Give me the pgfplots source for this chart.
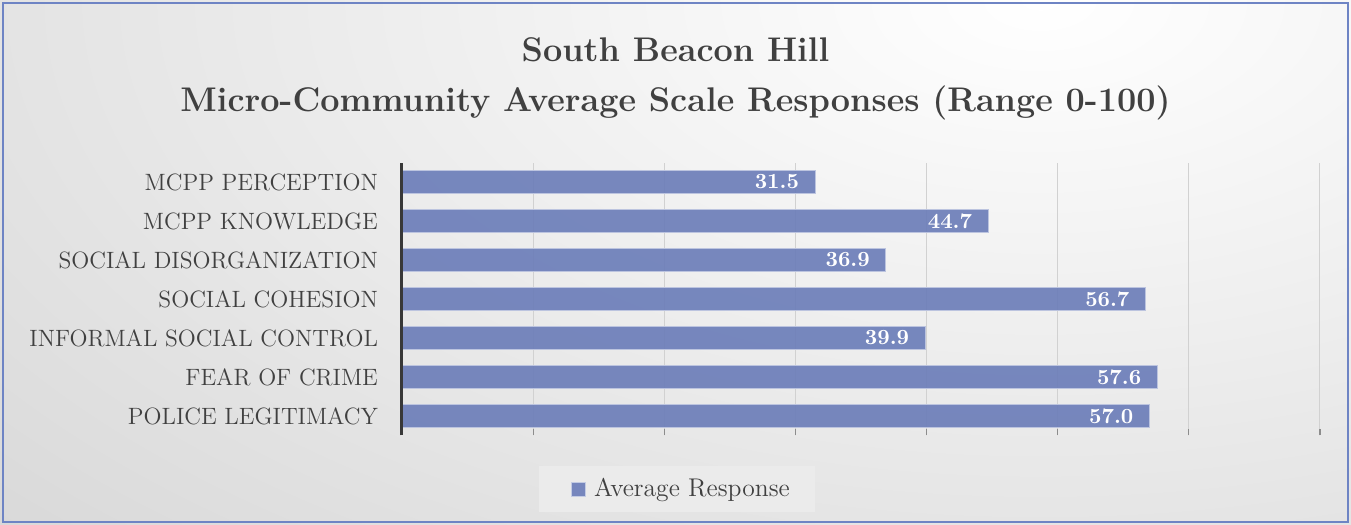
\documentclass[border=0pt]{standalone}
\usepackage{fontspec}
\usepackage{pgfplots}
\pgfplotsset{compat=1.18}

\definecolor{barc}{RGB}{106,124,184}
\definecolor{txt}{RGB}{64,64,64}
\definecolor{framec}{RGB}{110,132,196}

\begin{document}
\begin{tikzpicture}
% 1 px of the reference = 0.5pt
\useasboundingbox (0,0) rectangle (675.5pt,262.5pt);
\begin{scope}
  \clip (0,0) rectangle (675.5pt,262.5pt);
  \fill[black!24] (0,0) rectangle (675.5pt,262.5pt);
  \shade[inner color=white, outer color=black!24] (520pt,262.5pt) ellipse (1150pt and 620pt);
\end{scope}
\draw[framec, line width=1pt] (1.5pt,1.5pt) rectangle (674pt,261pt);

\node[txt, font=\fontsize{17.1}{20}\selectfont\bfseries] at (337.75pt,237.5pt) {South Beacon Hill};
\node[txt, font=\fontsize{17.1}{20}\selectfont\bfseries] at (337.75pt,211pt) {Micro-Community Average Scale Responses (Range 0-100)};

\begin{axis}[
    at={(201pt,44.75pt)}, anchor=south west,
    width=459pt, height=136.5pt, scale only axis,
    clip=false,
    xbar, bar width=0.58,
    xmin=0, xmax=70, ymin=-0.5, ymax=6.5,
    axis line style={draw=none},
    tick pos=left,
    xtick={10,20,...,70}, xticklabels={},
    xtick align=inside, major tick length=3pt,
    xtick style={draw=black!45, line width=0.6pt},
    xmajorgrids, major grid style={draw=black!18, line width=0.5pt},
    ytick={0,...,6},
    yticklabels={POLICE LEGITIMACY, FEAR OF CRIME, INFORMAL SOCIAL CONTROL, SOCIAL COHESION, SOCIAL DISORGANIZATION, MCPP KNOWLEDGE, MCPP PERCEPTION},
    ytick style={draw=none},
    yticklabel style={font=\fontsize{11.8}{13}\selectfont, text=txt, xshift=-5.5pt},
    point meta=x,
    nodes near coords,
    nodes near coords style={anchor=east, xshift=-4.5pt, text=white, font=\fontsize{10.8}{12}\selectfont\bfseries,
        /pgf/number format/.cd, fixed, fixed zerofill, precision=1, assume math mode=true},
    legend style={at={(0.2996,-0.196)}, anchor=center, fill=black!8, draw=none,
        font=\fontsize{12.8}{14}\selectfont, text=txt, inner xsep=10.5pt, inner ysep=4pt},
    legend image code/.code={\path (-5.5pt,0pt); \draw[fill=barc, draw=white!60!barc, line width=0.4pt] (0pt,-3.5pt) rectangle (7pt,3.5pt); \path (9pt,0pt);},
]
\addplot[fill=barc, fill opacity=0.9, text opacity=1, draw=white!55!barc, line width=0.5pt] coordinates {
    (57.0,0)
    (57.6,1)
    (39.9,2)
    (56.7,3)
    (36.9,4)
    (44.7,5)
    (31.5,6)
};
\addlegendentry{Average Response}
\draw[black!78, line width=1.5pt] (rel axis cs:0,0) -- (rel axis cs:0,1);
\end{axis}
\end{tikzpicture}
\end{document}
